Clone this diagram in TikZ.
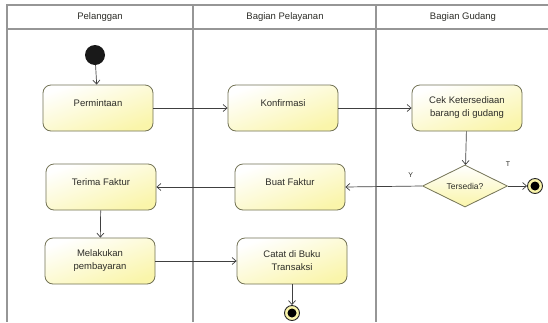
\documentclass[tikz,border=0pt]{standalone}
\usepackage{fontspec}
\setmainfont{Liberation Sans}
\usetikzlibrary{arrows.meta,shapes.geometric}
\definecolor{actfill}{RGB}{250,245,170}
\definecolor{actline}{RGB}{115,115,85}
\definecolor{lanegray}{RGB}{150,150,150}
\definecolor{txt}{RGB}{45,45,40}
\begin{document}
\begin{tikzpicture}[x=1pt,y=-1pt,
  lane/.style={draw=lanegray,line width=1.3pt},
  head/.style={font=\fontsize{9.5}{11}\selectfont,text=txt},
  action/.style={draw=actline,line width=0.8pt,rounded corners=8pt,
    top color=white,bottom color=actfill,shading angle=20,
    minimum width=110pt,minimum height=46pt,align=center,inner sep=2pt,
    font=\fontsize{9.5}{13}\selectfont,text=txt},
  oneline/.style={text depth=10pt},
  decision/.style={shape=diamond,draw=actline,line width=0.8pt,
    top color=white,bottom color=actfill,
    minimum width=85pt,minimum height=42pt,shape aspect=2,inner sep=0pt,
    font=\fontsize{8.5}{10}\selectfont,text=txt},
  startnode/.style={circle,fill=black!90,minimum size=20pt,inner sep=0pt},
  endnode/.style={circle,draw=black!85,line width=0.9pt,fill=actfill,minimum size=15pt,inner sep=0pt},
  flow/.style={draw=black!75,line width=0.7pt,-{Straight Barb[length=4pt,width=7pt]}},
  lbl/.style={font=\fontsize{7}{8}\selectfont,text=txt}
]
\useasboundingbox (0,0) rectangle (548,322);
\fill[white] (0,0) rectangle (548,322);

% swimlane frame
\draw[lane] (548,5) -- (7,5) -- (7,322);
\draw[lane] (7,29) -- (548,29);
\draw[lane] (193,5) -- (193,322);
\draw[lane] (376,5) -- (376,322);
\node[head] (h1) at (100,17) {Pelanggan};
\node[head] (h2) at (285,17) {Bagian Pelayanan};
\node[head] (h3) at (463,17) {Bagian Gudang};

% activities
\node[startnode] (start) at (95,55) {};
\node[action,oneline] (perm) at (98,108) {Permintaan};
\node[action,oneline] (konf) at (283,108) {Konfirmasi};
\node[action] (cek) at (467,108) {Cek Ketersediaan\\barang di gudang};
\node[decision] (dec) at (465,186) {Tersedia?};
\node[endnode] (end1) at (535,186) {};
\fill[black] (end1.center) circle (4.5);
\node[action,oneline] (buat) at (290,187) {Buat Faktur};
\node[action,oneline] (terima) at (101,187) {Terima Faktur};
\node[action] (melak) at (100,261) {Melakukan\\pembayaran};
\node[action] (catat) at (292,261) {Catat di Buku\\Transaksi};
\node[endnode] (end2) at (292,313) {};
\fill[black] (end2.center) circle (4.5);

% control flow
\draw[flow] (start) -- (perm);
\draw[flow] (perm) -- (konf);
\draw[flow] (konf) -- (cek);
\draw[flow] (cek) -- (dec);
\draw[flow] (dec.west) -- node[lbl,pos=0.15,above=5pt] {Y} (buat.east);
\draw[flow] (dec.east) -- (end1);
\node[lbl] (tlabel) at (508,164) {T};
\draw[flow] (buat) -- (terima);
\draw[flow] (terima) -- (melak);
\draw[flow] (melak) -- (catat);
\draw[flow] (catat) -- (end2);
\end{tikzpicture}
\end{document}
